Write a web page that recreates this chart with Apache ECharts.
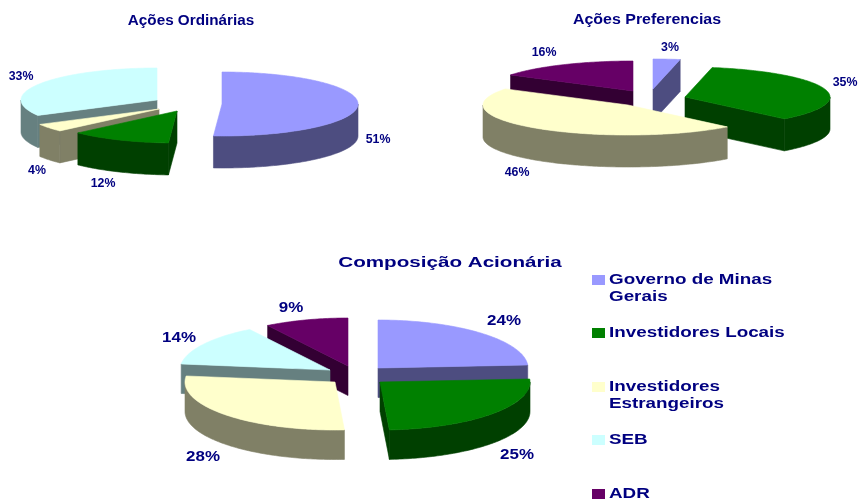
<!DOCTYPE html>
<html>
<head>
<meta charset="utf-8">
<style>html,body{margin:0;padding:0;background:#fff}#c{width:858px;height:499px}</style>
<script src="https://cdn.jsdelivr.net/npm/echarts@6/dist/echarts.min.js"></script>
</head>
<body>
<div id="c"></div>
<script>
// ---- data ----
const holders = ['Governo de Minas Gerais', 'Investidores Locais', 'Investidores Estrangeiros', 'SEB', 'ADR'];
const legendLines = [['Governo de Minas', 'Gerais'], ['Investidores Locais'], ['Investidores', 'Estrangeiros'], ['SEB'], ['ADR']];
const acoesOrdinarias = [51, 12, 4, 33, 0];
const acoesPreferencias = [3, 35, 46, 0, 16];
const composicaoAcionaria = [24, 25, 28, 14, 9];

// ---- styling / layout (not data) ----
const topColors = ['#9999FF', '#008000', '#FFFFCC', '#CCFFFF', '#660066'];
const wallColors = ['#4D4D80', '#004000', '#808066', '#668080', '#330033'];
const ink = '#000080';
const fontFam = '"Liberation Sans", Arial, sans-serif';

const pies = [
  { title: 'Ações Ordinárias', values: acoesOrdinarias, rx: 136, ry: 32, depth: 32,
    center: [190, 105], titlePos: [191, 21], titleSize: 14, titleScale: 1.09, labelSize: 12, labelScale: 1.03,
    explode: [[32, -1], [-13, 6], [-31, 4], [-33, -5], [0, 0]],
    labels: [[378, 140], [103, 184], [37, 171], [21, 77], null] },
  { title: 'Ações Preferencias', values: acoesPreferencias, rx: 145, ry: 30, depth: 32,
    center: [650, 100], titlePos: [647, 20], titleSize: 14, titleScale: 1.14, labelSize: 12, labelScale: 1.03,
    explode: [[3, -11], [35, -3], [-22, 5], [0, 0], [-17, -9]],
    labels: [[670, 48], [845, 83], [517, 173], null, [544, 53]] },
  { title: 'Composição Acionária', values: composicaoAcionaria, rx: 150, ry: 48, depth: 29.5,
    center: [360, 375], titlePos: [450, 263], titleSize: 15, titleScale: 1.375, labelSize: 15, labelScale: 1.13,
    explode: [[18, -7], [20, 7], [-25, 7], [-30, -5], [-12, -9]],
    labels: [[504, 321], [517, 455], [203, 457], [179, 338], [291, 308]] }
];
const legendLayout = { swatchX: 592, textX: 609, swatchW: 13, swatchH: 10, fontSize: 15, scale: 1.255, lineGap: 17,
  rows: [280, 333, 387, 440, 494] };

// ---- drawing helpers ----
const rad = d => d * Math.PI / 180;
function rim(pie, c, deg, dy) {
  return [c[0] + pie.rx * Math.sin(rad(deg)), c[1] - pie.ry * Math.cos(rad(deg)) + (dy || 0)];
}
function arcPts(pie, c, a, b, dy) {
  const pts = [];
  const n = Math.max(1, Math.ceil(Math.abs(b - a)));
  for (let i = 0; i <= n; i++) pts.push(rim(pie, c, a + (b - a) * i / n, dy));
  return pts;
}
function poly(points, color, z2) {
  return { type: 'polygon', z2: z2, shape: { points: points },
    style: { fill: color, stroke: color, lineWidth: 0.6 }, silent: true };
}

function makeSeries(pie) {
  const total = pie.values.reduce((a, b) => a + b, 0);
  const spans = [];
  let acc = 0;
  pie.values.forEach(v => {
    const s = acc / total * 360; acc += v;
    spans.push([s, acc / total * 360]);
  });
  // far slices first
  const order = pie.values.map((v, i) => i)
    .sort((a, b) => Math.cos(rad((spans[b][0] + spans[b][1]) / 2)) - Math.cos(rad((spans[a][0] + spans[a][1]) / 2)));
  return {
    type: 'custom',
    name: pie.title,
    coordinateSystem: 'none',
    silent: true,
    animation: false,
    data: pie.values.map((v, i) => ({ name: holders[i], value: [i, v] })),
    renderItem: function (params, api) {
      const i = api.value(0), v = api.value(1);
      if (!v) return { type: 'group', children: [] };
      const [s, e] = spans[i];
      const c = [pie.center[0] + pie.explode[i][0], pie.center[1] + pie.explode[i][1]];
      const z = 10 * (order.indexOf(i) + 1);
      const wall = wallColors[i], kids = [];
      const below = [c[0], c[1] + pie.depth];
      if (Math.sin(rad(s)) < 0) {
        kids.push(poly([c, rim(pie, c, s), rim(pie, c, s, pie.depth), below], wall, z));
      }
      if (Math.sin(rad(e)) > 0) {
        kids.push(poly([c, rim(pie, c, e), rim(pie, c, e, pie.depth), below], wall, z));
      }
      const a = Math.max(s, 90), b = Math.min(e, 270);
      if (b > a) {
        kids.push(poly(arcPts(pie, c, a, b, 0).concat(arcPts(pie, c, b, a, pie.depth)), wall, z + 1));
      }
      kids.push(poly([c].concat(arcPts(pie, c, s, e, 0)), topColors[i], z + 2));
      const lp = pie.labels[i];
      if (lp) {
        kids.push({ type: 'text', x: lp[0], y: lp[1], scaleX: pie.labelScale, z2: 200, silent: true,
          style: { text: v + '%', x: 0, y: 0, align: 'center', verticalAlign: 'middle', fill: ink,
            font: 'bold ' + pie.labelSize + 'px ' + fontFam } });
      }
      return { type: 'group', children: kids };
    }
  };
}

const graphics = [];
pies.forEach(p => {
  graphics.push({ type: 'text', x: p.titlePos[0], y: p.titlePos[1], scaleX: p.titleScale, silent: true,
    style: { text: p.title, x: 0, y: 0, align: 'center', verticalAlign: 'middle', fill: ink,
      font: 'bold ' + p.titleSize + 'px ' + fontFam } });
});
legendLines.forEach((lines, i) => {
  const L = legendLayout, y = L.rows[i];
  graphics.push({ type: 'rect', silent: true, shape: { x: L.swatchX, y: y - L.swatchH / 2, width: L.swatchW, height: L.swatchH },
    style: { fill: topColors[i] } });
  lines.forEach((t, j) => {
    graphics.push({ type: 'text', x: L.textX, y: y + j * L.lineGap, scaleX: L.scale, silent: true,
      style: { text: t, x: 0, y: 0, align: 'left', verticalAlign: 'middle', fill: ink,
        font: 'bold ' + L.fontSize + 'px ' + fontFam } });
  });
});

const chart = echarts.init(document.getElementById('c'), null, { renderer: 'canvas' });
chart.setOption({
  backgroundColor: '#ffffff',
  animation: false,
  graphic: { elements: graphics },
  series: pies.map(makeSeries)
});
</script>
</body>
</html>
